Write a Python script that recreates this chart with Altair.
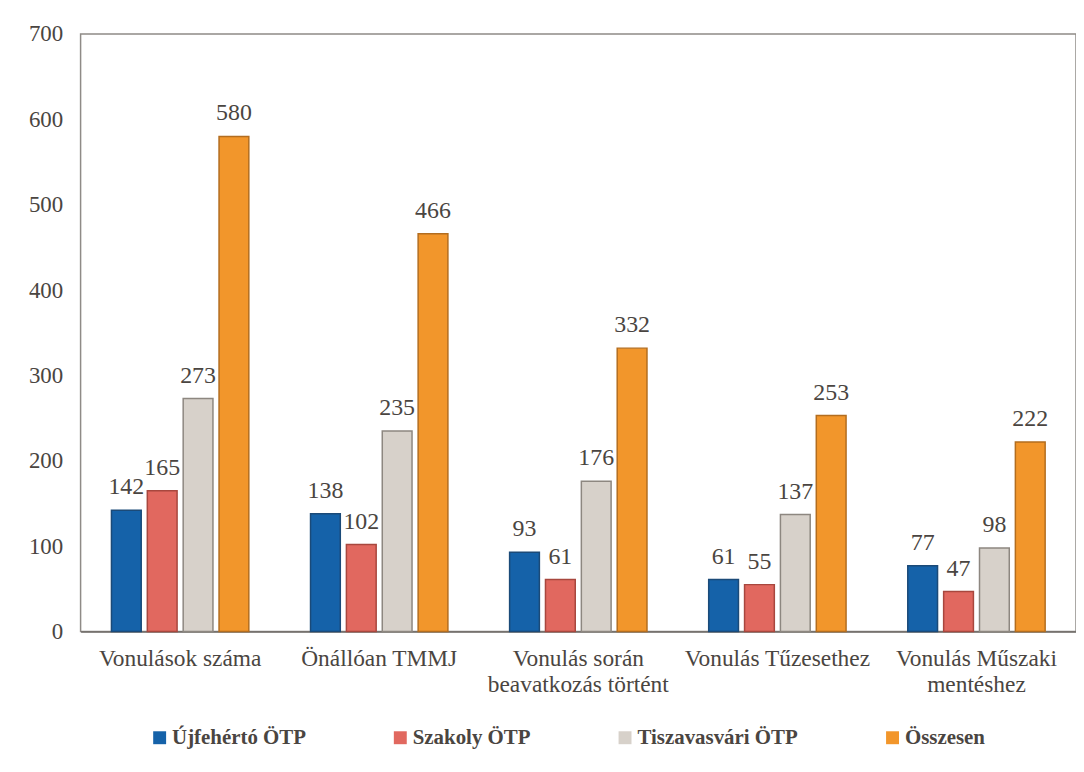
import altair as alt
import pandas as pd

categories = [
    "Vonulások száma",
    "Önállóan TMMJ",
    "Vonulás során beavatkozás történt",
    "Vonulás Tűzesethez",
    "Vonulás Műszaki mentéshez",
]
label_lines = {
    "Vonulás során beavatkozás történt": ["Vonulás során", "beavatkozás történt"],
    "Vonulás Műszaki mentéshez": ["Vonulás Műszaki", "mentéshez"],
}
series = ["Újfehértó ÖTP", "Szakoly ÖTP", "Tiszavasvári ÖTP", "Összesen"]
ujfeherto = [142, 138, 93, 61, 77]
szakoly = [165, 102, 61, 55, 47]
tiszavasvari = [273, 235, 176, 137, 98]
osszesen = [580, 466, 332, 253, 222]
y_ticks = [0, 100, 200, 300, 400, 500, 600, 700]

fill_colors = ["#1562a9", "#e1685f", "#d7d1ca", "#f2962b"]
stroke_colors = ["#1b4a78", "#a8473e", "#8d8780", "#b36d1f"]

values = [ujfeherto, szakoly, tiszavasvari, osszesen]
rows = []
for s, vals in zip(series, values):
    for c, v in zip(categories, vals):
        rows.append({"kategoria": c, "sorozat": s, "ertek": v})
df = pd.DataFrame(rows)

FONT = "Liberation Serif"
TXT = "#4a4541"

expr_parts = []
for k, lines in label_lines.items():
    arr = "[" + ", ".join("'" + l + "'" for l in lines) + "]"
    expr_parts.append(f"datum.label == '{k}' ? {arr} : ")
label_expr = "".join(expr_parts) + "datum.label"

x_enc = alt.X(
    "kategoria:N",
    sort=categories,
    title=None,
    scale=alt.Scale(paddingInner=0.31, paddingOuter=0.155),
    axis=alt.Axis(
        labelAngle=0,
        labelExpr=label_expr,
        labelFont=FONT,
        labelFontSize=23.5,
        labelColor=TXT,
        labelPadding=15,
        labelLineHeight=26,
        labelBaseline="top",
        ticks=False,
        domainColor="#6e6a66",
        domainWidth=1.5,
        labelLimit=300,
    ),
)
xoff = alt.XOffset(
    "sorozat:N",
    sort=series,
    scale=alt.Scale(paddingInner=0.17, paddingOuter=0),
)
y_enc = alt.Y(
    "ertek:Q",
    title=None,
    scale=alt.Scale(domain=[0, 700], nice=False),
    axis=alt.Axis(
        values=y_ticks,
        grid=False,
        ticks=False,
        domain=False,
        labelFont=FONT,
        labelFontSize=23,
        labelColor=TXT,
        labelPadding=18,
    ),
)

bars = alt.Chart(df).mark_bar(strokeWidth=1.5).encode(
    x=x_enc,
    xOffset=xoff,
    y=y_enc,
    color=alt.Color(
        "sorozat:N",
        sort=series,
        scale=alt.Scale(domain=series, range=fill_colors),
        legend=alt.Legend(
            title=None,
            orient="none",
            direction="horizontal",
            legendX=69,
            legendY=697,
            columns=4,
            columnPadding=84,
            symbolType="square",
            symbolSize=169,
            symbolStrokeWidth=0,
            symbolOpacity=1,
            labelOffset=2,
            labelFont=FONT,
            labelFontSize=21,
            labelFontWeight="bold",
            labelColor=TXT,
            labelLimit=300,
        ),
    ),
    stroke=alt.Stroke(
        "sorozat:N",
        sort=series,
        scale=alt.Scale(domain=series, range=stroke_colors),
        legend=None,
    ),
)

labels = alt.Chart(df).mark_text(
    font=FONT, fontSize=24, color=TXT, baseline="alphabetic", dy=-16
).encode(
    x=alt.X("kategoria:N", sort=categories),
    xOffset=alt.XOffset("sorozat:N", sort=series),
    y=alt.Y("ertek:Q"),
    text=alt.Text("ertek:Q"),
)

chart = (
    alt.layer(bars, labels)
    .properties(
        width=1001,
        height=601,
        padding={"left": 20, "top": 13, "right": 0, "bottom": 0},
        background="white",
    )
    .configure(font=FONT)
    .configure_view(stroke="#8f8b87", strokeWidth=1.5)
)

chart.save("out.html", embed_options={"renderer": "svg", "actions": False})
